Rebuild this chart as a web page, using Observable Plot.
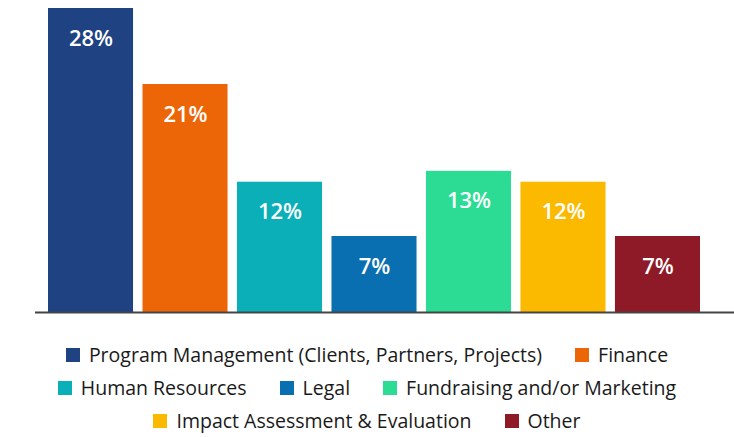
<!DOCTYPE html>
<html>
<head>
<meta charset="utf-8">
<script src="https://cdn.jsdelivr.net/npm/d3@7"></script>
<script src="https://cdn.jsdelivr.net/npm/@observablehq/plot@0.6"></script>
<style>
  html, body { margin: 0; padding: 0; background: #fff; }
  body { width: 734px; height: 437px; overflow: hidden; font-family: "Open Sans", sans-serif; }
  #legend { width: 680px; margin: 23px auto 0; display: flex; flex-wrap: wrap; justify-content: center; column-gap: 33px; row-gap: 9px; }
  .item { display: flex; align-items: center; font-size: 19.5px; color: #1a1a1a; line-height: 24px; white-space: nowrap; }
  .sw { width: 14px; height: 14px; margin-right: 9px; display: inline-block; }
</style>
</head>
<body>
<div id="chart"></div>
<div id="legend"></div>
<script>
const categories = ["Program Management (Clients, Partners, Projects)", "Finance", "Human Resources", "Legal", "Fundraising and/or Marketing", "Impact Assessment & Evaluation", "Other"];
const values = [28, 21, 12, 7, 13, 12, 7];
const colors = ["#1e4282", "#ec6608", "#0aafb8", "#0a6fb0", "#2ddc94", "#fbb900", "#8f1a27"];

const data = categories.map((c, i) => ({category: c, value: values[i]}));

const plot = Plot.plot({
  width: 734,
  height: 320,
  marginTop: 8,
  marginBottom: 8,
  marginLeft: 35,
  marginRight: 0,
  x: {domain: categories, range: [48, 700], padding: 0.1, paddingOuter: 0, round: false, axis: null},
  y: {domain: [0, 28], axis: null},
  color: {domain: categories, range: colors},
  marks: [
    Plot.barY(data, {x: "category", y: "value", fill: "category"}),
    Plot.text(data, {x: "category", y: "value", text: d => d.value + "%", dy: 30, fill: "white", fontSize: 22, fontWeight: 600, fontFamily: "Open Sans"}),
    Plot.ruleY([0], {stroke: "#444", strokeWidth: 2})
  ]
});
document.getElementById("chart").appendChild(plot);

const legend = document.getElementById("legend");
categories.forEach((c, i) => {
  const it = document.createElement("div");
  it.className = "item";
  const sw = document.createElement("span");
  sw.className = "sw";
  sw.style.background = colors[i];
  it.appendChild(sw);
  it.appendChild(document.createTextNode(c));
  legend.appendChild(it);
});
</script>
</body>
</html>
